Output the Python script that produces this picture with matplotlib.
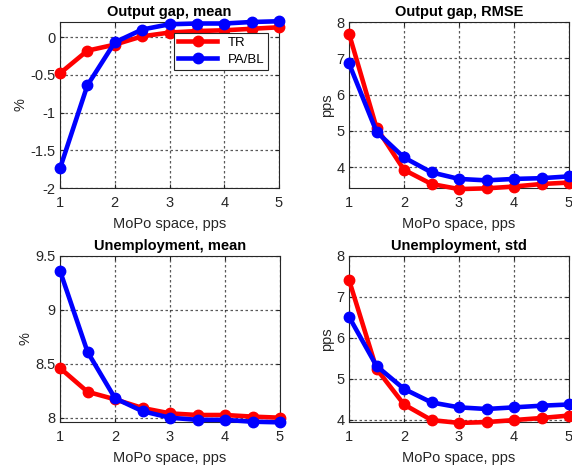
import numpy as np
import matplotlib.pyplot as plt

plt.rcParams['font.family'] = ['Liberation Sans', 'DejaVu Sans']

# MoPo space grid (pps)
mopo = [1, 1.5, 2, 2.5, 3, 3.5, 4, 4.5, 5]

# output gap, mean (%)
gap_mean_tr = [-0.48, -0.18, -0.10, 0.01, 0.06, 0.08, 0.09, 0.11, 0.13]
gap_mean_pa = [-1.74, -0.64, -0.07, 0.10, 0.17, 0.18, 0.18, 0.20, 0.21]

# output gap, RMSE (pps)
gap_rmse_tr = [7.68, 5.09, 3.93, 3.54, 3.40, 3.42, 3.47, 3.54, 3.58]
gap_rmse_pa = [6.86, 4.98, 4.27, 3.86, 3.68, 3.64, 3.68, 3.70, 3.75]

# unemployment, mean (%)
unemp_mean_tr = [8.46, 8.24, 8.17, 8.09, 8.04, 8.025, 8.025, 8.01, 8.00]
unemp_mean_pa = [9.36, 8.61, 8.18, 8.06, 8.00, 7.98, 7.98, 7.963, 7.957]

# unemployment, std (pps)
unemp_std_tr = [7.41, 5.24, 4.37, 3.99, 3.92, 3.94, 3.99, 4.04, 4.10]
unemp_std_pa = [6.51, 5.31, 4.75, 4.42, 4.30, 4.26, 4.30, 4.34, 4.37]

panels = [
    ("Output gap, mean", "%", gap_mean_tr, gap_mean_pa, (-2, 0.2), [-2, -1.5, -1, -0.5, 0], ["-2", "-1.5", "-1", "-0.5", "0"]),
    ("Output gap, RMSE", "pps", gap_rmse_tr, gap_rmse_pa, (3.43, 8), [4, 5, 6, 7, 8], ["4", "5", "6", "7", "8"]),
    ("Unemployment, mean", "%", unemp_mean_tr, unemp_mean_pa, (7.963, 9.5), [8, 8.5, 9, 9.5], ["8", "8.5", "9", "9.5"]),
    ("Unemployment, std", "pps", unemp_std_tr, unemp_std_pa, (3.95, 8), [4, 5, 6, 7, 8], ["4", "5", "6", "7", "8"]),
]

# axes boxes in figure fractions [left, bottom, width, height]
boxes = [
    [60 / 572, 1 - 188 / 471, 219 / 572, 166 / 471],
    [349 / 572, 1 - 188 / 471, 220 / 572, 166 / 471],
    [60 / 572, 1 - 421.7 / 471, 220 / 572, 166 / 471],
    [349 / 572, 1 - 421.7 / 471, 220 / 572, 166 / 471],
]

fig = plt.figure(figsize=(5.72, 4.71), dpi=100)
grey = '#262626'

for i, (title, ylab, tr, pa, ylim, yt, ytl) in enumerate(panels):
    ax = fig.add_axes(boxes[i])
    ax.plot(mopo, tr, color='red', lw=3.3, marker='o', ms=7.5, clip_on=False, label='TR', zorder=3)
    ax.plot(mopo, pa, color='blue', lw=3.3, marker='o', ms=7.5, clip_on=False, label='PA/BL', zorder=4)
    ax.set_xlim(1, 5)
    ax.set_ylim(*ylim)
    ax.set_xticks([1, 2, 3, 4, 5])
    ax.set_yticks(yt)
    ax.set_yticklabels(ytl)
    ax.grid(True, color='black', linestyle=(0, (2, 2)), lw=0.9, alpha=0.65)
    ax.tick_params(direction='in', labelsize=10.5, colors=grey, length=3, top=True, right=True)
    ax.tick_params(axis='x', pad=6)
    ax.tick_params(axis='y', pad=3)
    for s in ax.spines.values():
        s.set_color(grey)
        s.set_linewidth(0.8)
    ax.set_title(title, fontsize=10.5, fontweight='bold', pad=4)
    ax.set_xlabel("MoPo space, pps", fontsize=10.5, color=grey, labelpad=5)
    ax.set_ylabel(ylab, fontsize=10.5, color=grey, labelpad=2)
    if i == 0:
        leg = ax.legend(loc='upper right', fontsize=9.5, fancybox=False, framealpha=1,
                        edgecolor=grey, handlelength=3, borderaxespad=0.8,
                        borderpad=0.3, labelspacing=0.35)
        leg.get_frame().set_linewidth(0.8)
        leg.set_zorder(10)

fig.savefig("out.png", dpi=100)
